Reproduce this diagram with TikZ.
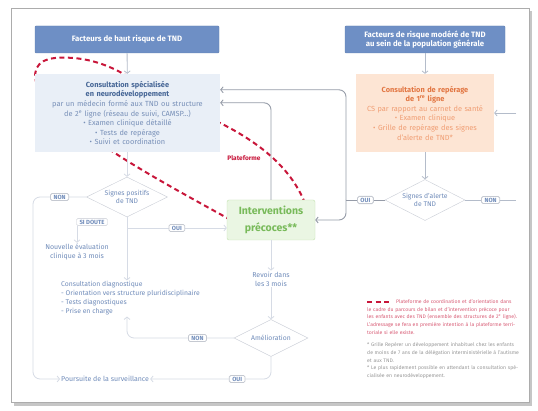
\documentclass[tikz,border=0pt]{standalone}
\usepackage{fontspec}
\setmainfont{Fira Sans}
\usetikzlibrary{shapes.geometric,backgrounds,arrows.meta}

\definecolor{hdrblue}{RGB}{110,143,197}
\definecolor{cspfill}{RGB}{233,239,247}
\definecolor{csptitle}{RGB}{70,102,150}
\definecolor{csptext}{RGB}{120,144,184}
\definecolor{orfill}{RGB}{253,229,212}
\definecolor{ortitle}{RGB}{226,118,66}
\definecolor{ortext}{RGB}{240,158,116}
\definecolor{grfill}{RGB}{234,246,227}
\definecolor{grline}{RGB}{196,226,178}
\definecolor{grtext}{RGB}{120,186,90}
\definecolor{platred}{RGB}{200,22,58}
\definecolor{linkgray}{RGB}{150,156,168}
\definecolor{flowgray}{RGB}{180,188,202}
\definecolor{faintgray}{RGB}{214,219,229}
\definecolor{lbltext}{RGB}{112,140,186}
\definecolor{notegray}{RGB}{150,150,150}

\begin{document}
\begin{tikzpicture}[
  x=1pt, y=-1pt,
  >={Straight Barb[length=2.4pt,width=6pt]},
  every node/.style={inner sep=1pt},
  header/.style={rectangle, draw=hdrblue!90!black, fill=hdrblue, text=white,
    font=\fontsize{7.8}{9.4}\selectfont\bfseries, align=center,
    minimum height=27pt, rounded corners=1pt},
  cspbox/.style={rectangle, fill=cspfill, text=csptext, text width=185pt,
    align=center, minimum height=78pt, inner sep=0pt,
    font=\fontsize{7.4}{9.6}\selectfont},
  orbox/.style={rectangle, fill=orfill, text=ortext, text width=138pt,
    align=center, minimum height=78pt, inner sep=0pt,
    font=\fontsize{7.4}{9.6}\selectfont},
  interbox/.style={rectangle, fill=grfill, draw=grline, rounded corners=2pt,
    text=grtext, font=\fontsize{10.5}{17}\selectfont\bfseries, align=center,
    minimum width=88pt, minimum height=40pt},
  choice/.style={diamond, draw=faintgray!85!gray, fill=white, aspect=2,
    inner sep=0pt, text=lbltext, align=center,
    font=\fontsize{6.8}{8.6}\selectfont},
  tag/.style={rectangle, rounded corners=1.5pt, draw=faintgray!80!gray,
    fill=white, text=lbltext, font=\fontsize{6}{6.5}\selectfont\bfseries,
    inner xsep=3pt, inner ysep=1.4pt},
  txt/.style={text=lbltext, font=\fontsize{7}{9}\selectfont},
  link/.style={draw=linkgray, line width=0.9pt, ->, rounded corners=7pt},
  flow/.style={draw=flowgray, line width=0.8pt, ->, rounded corners=7pt},
  faint/.style={draw=faintgray, line width=0.8pt, ->, rounded corners=7pt},
  plat/.style={draw=platred, line width=2pt, dash pattern=on 5pt off 3.5pt}]

  \useasboundingbox (0,0) rectangle (538,411);

  % ---- page -------------------------------------------------------------
  \begin{scope}[on background layer]
    \fill[white] (0,0) rectangle (538,411);
    \fill[gray!45] (14,11) rectangle (532,406);
    \filldraw[fill=white, draw=gray!65, line width=0.8pt] (11,8) rectangle (529,402);
  \end{scope}

  % ---- boxes ------------------------------------------------------------
  \node[header, minimum width=184pt] (hautrisque) at (127,39.5)
    {Facteurs de haut risque de TND};
  \node[header, minimum width=160pt] (modere) at (425,39.5)
    {Facteurs de risque modéré de TND\\au sein de la population générale};

  \node[cspbox] (consult) at (127.5,113)
    {{\bfseries\color{csptitle}Consultation spécialisée}\\
     {\bfseries\color{csptitle}en neurodéveloppement}\\
     par un médecin formé aux TND ou structure\\
     de 2\textsuperscript{e} ligne (réseau de suivi, CAMSP...)\\
     • Examen clinique détaillé\\
     • Tests de repérage\\
     • Suivi et coordination};
  \node[orbox] (reperage) at (425,113)
    {{\bfseries\color{ortitle}Consultation de repérage}\\
     {\bfseries\color{ortitle}de 1\textsuperscript{re} ligne}\\
     CS par rapport au carnet de santé\\
     • Examen clinique\\
     • Grille de repérage des signes\\
     d'alerte de TND*};

  \node[interbox] (inter) at (271,220) {Interventions\\précoces**};

  % ---- decisions ----------------------------------------------------------
  \node[choice, minimum width=81pt, minimum height=40pt] (posit) at (127,197)
    {Signes positifs\\de TND};
  \node[choice, minimum width=80pt, minimum height=41pt] (alerte) at (425,200)
    {Signes d'alerte\\de TND};
  \node[choice, minimum width=74pt, minimum height=37pt] (amel) at (271,338)
    {Amélioration};

  % ---- texts --------------------------------------------------------------
  \node[txt, align=center] (revoir) at (271,279) {Revoir dans\\les 3 mois};
  \node[txt, align=center] (nouv) at (77,252) {Nouvelle évaluation\\clinique à 3 mois};
  \node[txt, align=left, anchor=west, font=\fontsize{6.8}{9}\selectfont] (diag) at (60,298.5)
    {Consultation diagnostique\\
     - Orientation vers structure pluridisciplinaire\\
     - Tests diagnostiques\\
     - Prise en charge};
  \node[txt, anchor=west] (pours) at (60,379) {Poursuite de la surveillance};
  \node[tag] (doute) at (92,222) {SI DOUTE};
  \node[text=platred, font=\fontsize{6.5}{7}\selectfont\bfseries] (platlbl) at (244,158)
    {Plateforme};

  % ---- notes --------------------------------------------------------------
  \node[anchor=north west, text width=152pt, align=left, text=platred!70,
    font=\fontsize{5.1}{7.9}\selectfont] (legend) at (366,298)
    {\hspace*{29pt}Plateforme de coordination et d'orientation dans le cadre
     du parcours de bilan et d'intervention précoce pour les enfants avec des
     TND (ensemble des structures de 2\textsuperscript{e} ligne). L'adressage
     se fera en première intention à la plateforme territoriale si elle existe.};
  \node[anchor=north west, text width=152pt, align=left, text=notegray,
    font=\fontsize{5.1}{7.9}\selectfont] (notes) at (366,341)
    {* Grille Repérer un développement inhabituel chez les enfants de moins
     de 7 ans de la délégation interministérielle à l'autisme et aux TND.\\
     ** Le plus rapidement possible en attendant la consultation spécialisée
     en neurodéveloppement.};

  % ---- free ends ----------------------------------------------------------
  \coordinate (j) at (346,200);
  \coordinate (nonend) at (516,200);
  \coordinate (retour) at (516,113);
  \coordinate (nonleft) at (33,197);

  % ---- connectors ---------------------------------------------------------
  \draw[flow] (hautrisque) -- (consult);
  \draw[flow] (modere) -- (reperage);
  \draw[flow] (reperage) -- (alerte);
  \draw[flow] (retour) -- (reperage.east);
  \draw[flow, -] (alerte.east) -- node[tag] {NON} (nonend);
  \draw[link, -] (alerte.west) -- node[tag] {OUI} (j);
  \draw[link] (j) |- ([yshift=-16pt]consult.north east);
  \draw[link] (j) |- (inter.east);
  \draw[link] (inter.north) |- ([yshift=-29pt]consult.north east);

  \draw[faint] (consult.south -| posit) -- (posit.north);
  \draw[faint] (posit.south) -- (posit.south |- diag.north);
  \draw[faint] ([yshift=-8pt]inter.west -| posit.south) -- node[tag] {OUI} ([yshift=-8pt]inter.west);
  \draw[faint] (posit.west) -- node[tag] {NON} (nonleft) |- (pours.west);
  \draw[faint] (doute.south -| nouv.north) -- (nouv.north);

  \draw[faint] (inter.south) -- (revoir.north);
  \draw[faint] (revoir.south) -- (amel.north);
  \draw[faint] (amel.west) -| node[tag, pos=0.17] {NON} (posit.south |- diag.south);
  \draw[faint] (amel.south) |- node[tag, pos=0.64] {OUI} (pours.east);

  % ---- plateforme loop (behind the boxes) ---------------------------------
  \begin{scope}[on background layer]
    \draw[plat] ([xshift=4pt]inter.west) .. controls (180,192) and (140,170)
      .. ([xshift=-20pt,yshift=4pt]consult.south);
    \draw[plat] ([xshift=5pt,yshift=-18pt]consult.north west) .. controls (30,72) and (36,60)
      .. (55,58) .. controls (80,56) and (105,62) .. ([xshift=2.5pt,yshift=-4pt]consult.north);
    \draw[plat] ([xshift=-4pt,yshift=-8pt]consult.east) .. controls (255,140) and (290,165)
      .. ([xshift=-10pt,yshift=-4pt]inter.north east);
  \end{scope}
  \draw[plat] ([xshift=1pt,yshift=-4.5pt]legend.north west) -- ++(25,0);
\end{tikzpicture}
\end{document}
